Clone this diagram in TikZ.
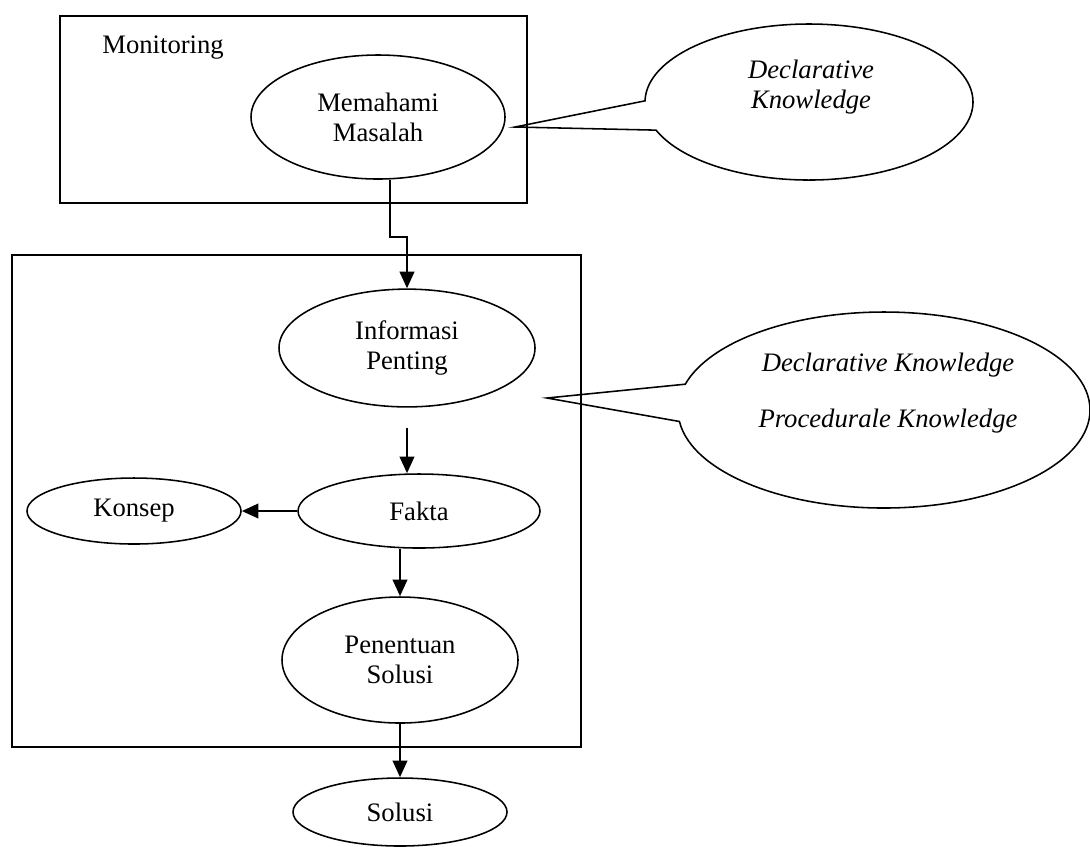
\documentclass[tikz,border=0pt,12pt]{standalone}
\usepackage{fontspec}
\setmainfont{Liberation Serif}
\usetikzlibrary{shapes.geometric,shapes.callouts,arrows.meta}

\tikzset{
    bubble/.style 2 args={ellipse, draw, line width=0.7pt, inner sep=0pt,
        minimum width=#1, minimum height=#2, align=center,
        font=\fontsize{12}{13.5}\selectfont},
    frame/.style={draw, line width=0.9pt},
    flow/.style={line width=1.2pt, -{Triangle[length=7.5pt,width=6.5pt]}},
    talk/.style={ellipse callout, draw, line width=0.7pt, inner sep=0pt,
        callout pointer arc=22},
    talktext/.style={align=center, font=\fontsize{12}{13.5}\selectfont\itshape}
}

\begin{document}
\begin{tikzpicture}[x=0.45pt, y=-0.45pt]
    \useasboundingbox (0, 0) rectangle (1090, 846);

    % monitoring box
    \draw[frame] (60, 16) rectangle (527, 203);
    \node[anchor=west, font=\fontsize{12}{13.5}\selectfont] (mon) at (93, 48) {Monitoring};
    \node[bubble={114.3pt}{55.8pt}] (mm) at (378, 117) {Memahami\\Masalah};

    % main box
    \draw[frame] (12, 255) rectangle (581, 747);
    \node[bubble={115.2pt}{53pt}] (ip) at (407, 348) {Informasi\\Penting};
    \node[bubble={108.9pt}{33.3pt}] (fakta) at (419, 511) {Fakta};
    \node[bubble={96.3pt}{29.7pt}] (konsep) at (134, 511) {Konsep};
    \node[bubble={106.2pt}{56.7pt}] (ps) at (400, 660) {Penentuan\\Solusi};
    \node[bubble={96.3pt}{30.6pt}] (solusi) at (400, 812) {Solusi};

    % callouts
    \coordinate (tip1) at (515, 127);
    \node[talk, minimum width=147.6pt, minimum height=70.2pt,
        callout absolute pointer={(tip1)}] (dk1) at (809, 102) {};
    \node[talktext] (dk1txt) at (811, 87) {Declarative\\Knowledge};

    \coordinate (tip2) at (547, 398);
    \node[talk, minimum width=185.4pt, minimum height=88.2pt,
        callout absolute pointer={(tip2)}] (dk2) at (884, 410) {};
    \node[talktext] (dk2txt) at (888, 393) {Declarative Knowledge\\[11.5pt]Procedurale Knowledge};

    % arrows
    \coordinate (bend) at (390, 237);
    \draw[flow] (mm.south -| bend) -- (bend) -| (ip.north);
    \draw[flow, shorten <=9pt] (ip.south) -- (ip.south |- fakta.north);
    \draw[flow] (fakta.west) -- (konsep.east);
    \draw[flow] (ps.north |- fakta.south) -- (ps.north);
    \draw[flow] (ps.south) -- (solusi.north);
\end{tikzpicture}
\end{document}
